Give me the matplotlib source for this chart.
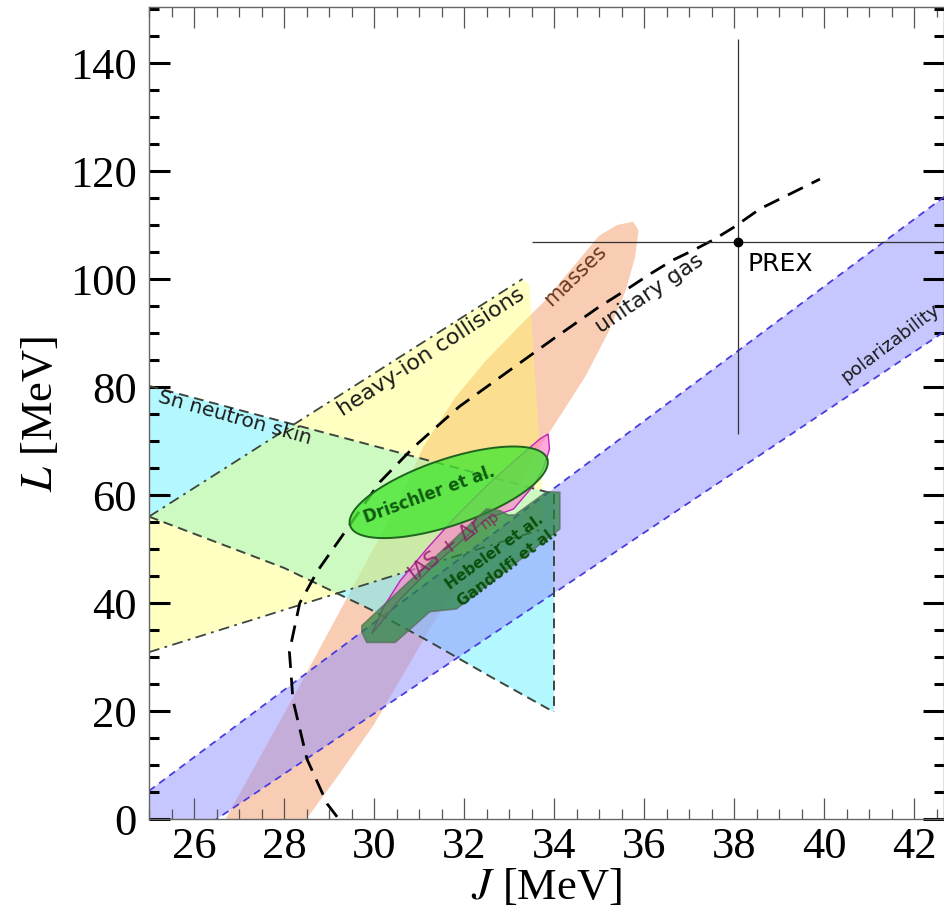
import numpy as np
import matplotlib.pyplot as plt
from matplotlib.ticker import MultipleLocator

plt.rcParams['mathtext.fontset'] = 'stix'
plt.rcParams['font.family'] = 'DejaVu Sans'

# dipole polarizability band (two edges)
pol_J = [25.0, 42.7]
pol_L_upper = [5.2, 115.4]
pol_L_lower = [-8.4, 90.4]

# Sn neutron skin
sn_J_upper = [25.0, 34.0]
sn_L_upper = [80.2, 60.2]
sn_J_lower = [25.0, 28.0, 29.9, 31.24, 32.6, 34.0]
sn_L_lower = [56.0, 46.5, 38.9, 32.8, 26.3, 19.8]

# heavy-ion collisions
hic_J = [25.0, 33.3, 33.45, 33.75, 33.75, 25.0]
hic_L = [56.0, 100.0, 99.0, 60.0, 53.7, 30.9]
hic_J_upper = [25.0, 33.3]
hic_L_upper = [56.0, 100.0]
hic_J_lower = [25.0, 33.75]
hic_L_lower = [30.9, 53.7]

# nuclear masses
mass_J = [26.7, 27.5, 28.4, 29.5, 30.5, 31.1, 31.8, 32.5, 33.2, 33.8, 34.5, 35.0,
          35.4, 35.76, 35.88, 35.8, 35.6, 35.2, 34.7, 34.2, 33.7, 32.8, 31.9,
          31.2, 30.0, 29.2, 28.5]
mass_L = [0.0, 12.0, 25.5, 42.5, 58.0, 69.0, 78.0, 85.0, 91.0, 96.0, 103.0, 108.0,
          110.0, 110.6, 109.0, 104.0, 98.0, 90.0, 82.0, 75.5, 69.0, 56.0, 44.0,
          34.6, 17.5, 8.0, 0.0]

# IAS + neutron skin
ias_J = [29.95, 30.21, 30.58, 31.17, 31.84, 32.50, 33.17, 33.69, 33.87, 33.90,
         33.76, 33.54, 33.10, 32.50, 31.32, 30.58]
ias_L = [34.3, 39.2, 44.1, 50.0, 56.2, 61.7, 66.7, 70.4, 71.3, 68.5,
         64.8, 61.7, 57.4, 55.6, 46.9, 40.7]

# Hebeler et al. / Gandolfi et al.
heb_J = [29.73, 29.73, 29.84, 30.47, 31.24, 31.83, 34.13, 34.13, 33.84,
         33.13, 32.98, 32.80, 32.50]
heb_L = [35.8, 34.6, 32.7, 32.7, 38.4, 38.9, 53.7, 60.5, 60.6,
         56.3, 56.3, 57.1, 57.4]

# Drischler et al. ellipse: centre and two conjugate semi-axes
dri_center = (31.66, 60.5)
dri_major = (2.19, 6.20)
dri_minor = (0.236, -5.79)

# unitary gas bound
ug_J = [29.18, 28.96, 28.51, 28.20, 28.12, 28.35, 28.75, 29.40, 30.13, 30.90,
        31.90, 33.00, 34.00, 34.96, 35.53, 36.13, 36.64, 37.09, 37.53, 37.98,
        38.58, 39.91]
ug_L = [0.4, 2.8, 11.1, 22.0, 31.0, 40.0, 46.0, 53.7, 62.4, 69.0,
        76.4, 83.0, 89.0, 94.6, 97.6, 100.9, 103.5, 105.3, 107.2, 109.5,
        113.0, 118.5]

# PREX
prex_J = 38.09
prex_L = 106.9
prex_Jerr = 4.58
prex_Lerr = [[35.6], [37.5]]

fig = plt.figure(figsize=(9.44, 9.12), dpi=100)
ax = fig.add_axes([149 / 944, 92 / 912, 795 / 944, 812 / 912])

ax.fill(mass_J, mass_L, color=(0.96, 0.61, 0.41), alpha=0.5, lw=0, zorder=1)
ax.fill(sn_J_upper + sn_J_lower[::-1], sn_L_upper + sn_L_lower[::-1],
        color=(0.41, 0.95, 1.0), alpha=0.5, lw=0, zorder=1.1)
ax.fill(hic_J, hic_L, color=(1.0, 1.0, 0.31), alpha=0.35, lw=0, zorder=1.2)
ax.fill(pol_J + pol_J[::-1], pol_L_upper + pol_L_lower[::-1],
        color=(0.57, 0.57, 1.0), alpha=0.5, lw=0, zorder=1.3)

ax.plot(pol_J, pol_L_upper, color='#4a3ce0', lw=1.3, ls=(0, (4, 3)), zorder=2)
ax.plot(pol_J, pol_L_lower, color='#4a3ce0', lw=1.3, ls=(0, (4, 3)), zorder=2)
ax.plot(sn_J_upper, sn_L_upper, color='#3d463d', lw=1.4, ls=(0, (5, 3)), zorder=2)
ax.plot(sn_J_lower, sn_L_lower, color='#3d463d', lw=1.4, ls=(0, (5, 3)), zorder=2)
ax.plot([34.0, 34.0], [sn_L_upper[-1], sn_L_lower[-1]], color='#3d463d', lw=1.4,
        ls=(0, (5, 3)), zorder=2)
ax.plot(hic_J_upper, hic_L_upper, color='#3d463d', lw=1.3, ls=(0, (6, 3, 1.5, 3)), zorder=2)
ax.plot(hic_J_lower, hic_L_lower, color='#3d463d', lw=1.3, ls=(0, (6, 3, 1.5, 3)), zorder=2)

ax.fill(ias_J, ias_L, facecolor=(1.0, 0.5, 0.8), alpha=0.65, edgecolor='none', zorder=3)
ax.fill(ias_J, ias_L, facecolor='none', edgecolor='#c020c0', lw=1.0, zorder=3.1)

ax.plot(ug_J, ug_L, color='black', lw=2.0, ls=(0, (6, 3.5)), zorder=3.5)

t = np.linspace(0, 2 * np.pi, 200)
dri_J = dri_center[0] + dri_major[0] * np.cos(t) + dri_minor[0] * np.sin(t)
dri_L = dri_center[1] + dri_major[1] * np.cos(t) + dri_minor[1] * np.sin(t)
ax.fill(dri_J, dri_L, facecolor=(0.28, 0.9, 0.2), alpha=0.8, edgecolor='none', zorder=4)
ax.plot(dri_J, dri_L, color='#1e641e', lw=1.4, zorder=4.1)

ax.fill(heb_J, heb_L, facecolor=(0.16, 0.52, 0.24), alpha=0.72,
        edgecolor='#5a6a5a', lw=1.2, zorder=4.5)

ax.errorbar(prex_J, prex_L, xerr=prex_Jerr, yerr=prex_Lerr, fmt='o', ms=6,
            color='black', ecolor='#333333', elinewidth=0.9, capsize=0, zorder=6)

ax.text(26.9, 74.4, 'Sn neutron skin', fontsize=14.5, rotation=-15.5,
        ha='center', va='center', color='#1a1a1a', zorder=7)
ax.text(31.27, 86.7, 'heavy-ion collisions', fontsize=16, rotation=33,
        ha='center', va='center', color='#1a1a1a', zorder=7)
ax.text(34.47, 100.9, 'masses', fontsize=15, rotation=44,
        ha='center', va='center', color='#6b3a1e', zorder=7)
ax.text(36.13, 97.4, 'unitary gas', fontsize=16, rotation=34,
        ha='center', va='center', color='#1a1a1a', zorder=7)
ax.text(38.31, 101.7, 'PREX', fontsize=18, ha='left', va='baseline', zorder=7)
ax.text(40.48, 80.9, 'polarizability', fontsize=13.3, rotation=37,
        rotation_mode='anchor', ha='left', va='baseline', color='#1a1a1a', zorder=7)
ax.text(31.78, 50.8, r'IAS + $\Delta r_{\rm np}$', fontsize=15, rotation=38,
        ha='center', va='center', color='#8c1e64', alpha=0.85,
        math_fontfamily='dejavusans', zorder=6.5)
ax.text(31.24, 60.2, 'Drischler et al.', fontsize=12, fontweight='bold', rotation=20,
        ha='center', va='center', color='#0f5a0f', zorder=7)
ax.text(32.69, 49.6, 'Hebeler et al.', fontsize=11, fontweight='bold', rotation=36,
        ha='center', va='center', color='#0a500a', zorder=7)
ax.text(32.98, 46.9, 'Gandolfi et al.', fontsize=11, fontweight='bold', rotation=37,
        ha='center', va='center', color='#0a500a', zorder=7)

ax.set_xlim(25, 25 + 795 / 45)
ax.set_ylim(0, 812 / 5.4)
ax.xaxis.set_major_locator(MultipleLocator(2))
ax.xaxis.set_minor_locator(MultipleLocator(0.5))
ax.yaxis.set_major_locator(MultipleLocator(20))
ax.yaxis.set_minor_locator(MultipleLocator(5))

ax.tick_params(which='both', direction='in', top=True, right=True)
ax.tick_params(axis='x', pad=5)
ax.tick_params(axis='y', pad=9)
ax.tick_params(axis='y', which='major', length=15, width=2.2, color='black')
ax.tick_params(axis='y', which='minor', length=7.5, width=2.2, color='black')
ax.tick_params(axis='x', which='major', length=15, width=0.9, color='#555555')
ax.tick_params(axis='x', which='minor', length=7.5, width=0.9, color='#555555')
for lab in ax.get_xticklabels() + ax.get_yticklabels():
    lab.set_fontfamily('Liberation Serif')
    lab.set_fontsize(32)
for sp in ax.spines.values():
    sp.set_color('#666666')
    sp.set_linewidth(1.0)

ax.set_xlabel(r'$J$ [MeV]', fontsize=32, family='Liberation Serif', labelpad=0)
ax.set_ylabel(r'$L$ [MeV]', fontsize=32, family='Liberation Serif', labelpad=6)

fig.savefig('out.png', dpi=100)
